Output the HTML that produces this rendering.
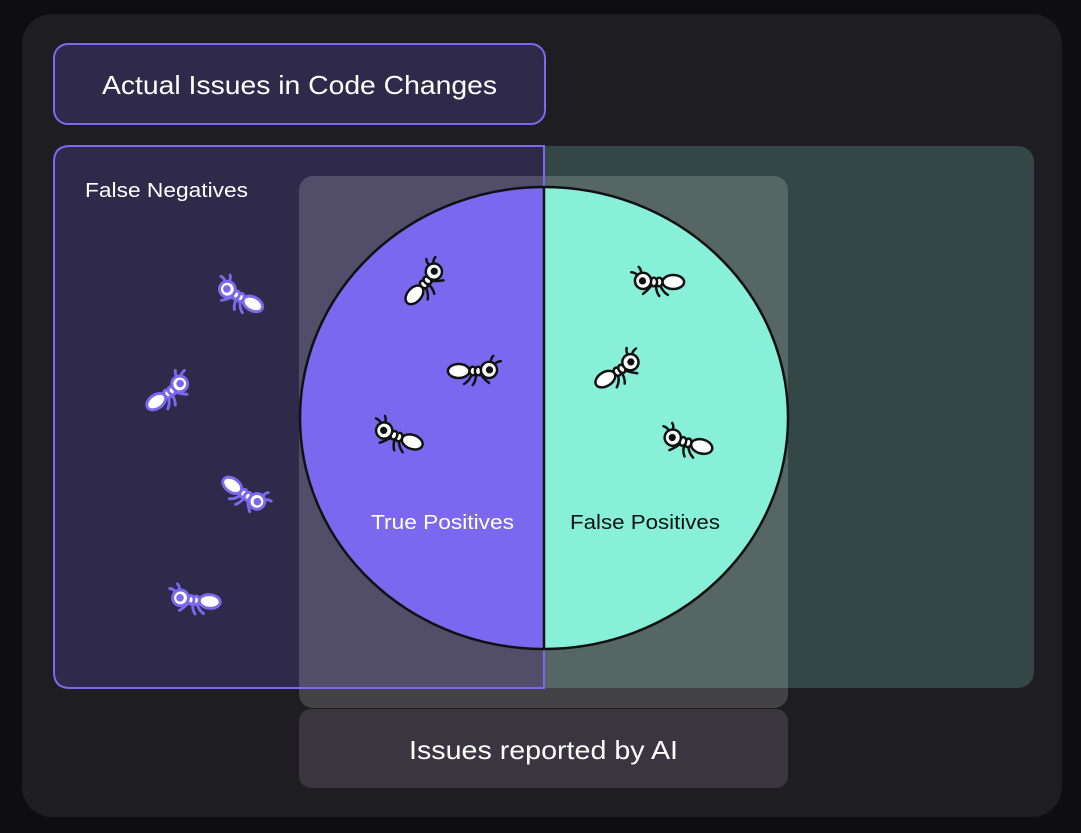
<!DOCTYPE html>
<html><head><meta charset="utf-8"><style>
html,body{margin:0;padding:0;background:#0e0e10;width:1081px;height:833px;overflow:hidden}
svg{display:block}
text{font-family:"Liberation Sans",sans-serif}
</style></head><body>
<svg width="1081" height="833" viewBox="0 0 1081 833" xmlns="http://www.w3.org/2000/svg">
<defs>
<g id="ant">
  <path d="M-4,3 q-2,6 -7,9 M0,3 q0,6 -3,10 M4,3 q4,5 8,8 M14,-6 q-1,-5 2,-8 M16,-5 q3,-4 7,-4" fill="none" stroke-linecap="round"/>
  <ellipse cx="-16" cy="0" rx="10" ry="6.5" fill="#fff"/>
  <ellipse cx="-3" cy="0" rx="3" ry="4" fill="#fff"/>
  <ellipse cx="2" cy="0" rx="3" ry="4" fill="#fff"/>
  <circle cx="12" cy="-1" r="7.5" fill="#fff"/>
  <circle cx="12.5" cy="-1" r="2.2" class="pup"/>
</g>
</defs>
<rect x="22" y="14" width="1040" height="803" rx="30" fill="#1e1d21"/>
<rect x="54" y="44" width="491" height="80" rx="14" fill="#2f2a4a" stroke="#7b68ee" stroke-width="2"/>
<text x="102" y="94" font-size="26" fill="#fff" textLength="395" lengthAdjust="spacingAndGlyphs">Actual Issues in Code Changes</text>
<rect x="54" y="146" width="980" height="542" rx="16" fill="#334846"/>
<path d="M70,146 H544 V688 H70 Q54,688 54,672 V162 Q54,146 70,146 Z" fill="#2f2a4a"/>
<text x="85" y="197" font-size="20" fill="#fff" textLength="163" lengthAdjust="spacingAndGlyphs">False Negatives</text>
<rect x="299" y="176" width="489" height="532" rx="14" fill="#ffffff" fill-opacity="0.17"/>
<path d="M70,146 H544 V688 H70 Q54,688 54,672 V162 Q54,146 70,146 Z" fill="none" stroke="#7b68ee" stroke-width="2"/>
<path d="M544,187 A244,231 0 0,0 544,649 Z" fill="#7b68ee"/>
<path d="M544,187 A244,231 0 0,1 544,649 Z" fill="#88f0d8"/>
<ellipse cx="544" cy="418" rx="244" ry="231" fill="none" stroke="#111" stroke-width="2.5"/>
<line x1="544" y1="187" x2="544" y2="649" stroke="#111" stroke-width="2.5"/>
<text x="371" y="529" font-size="20" fill="#fff" textLength="143" lengthAdjust="spacingAndGlyphs">True Positives</text>
<text x="570" y="529" font-size="20" fill="#111" textLength="150" lengthAdjust="spacingAndGlyphs">False Positives</text>
<rect x="299" y="709" width="489" height="79" rx="12" fill="#39363f"/>
<text x="409" y="759" font-size="26" fill="#fff" textLength="269" lengthAdjust="spacingAndGlyphs">Issues reported by AI</text>
<g stroke="#111" stroke-width="2.3" fill="#111">
  <use href="#ant" transform="translate(476,371) scale(1.08)"/>
  <use href="#ant" transform="translate(426,282) rotate(-48) scale(1.08)"/>
  <use href="#ant" transform="translate(396,436) scale(-1.08,1.08) rotate(-20)"/>
  <use href="#ant" transform="translate(656,282) scale(-1.08,1.08)"/>
  <use href="#ant" transform="translate(620,370) rotate(-32) scale(1.08)"/>
  <use href="#ant" transform="translate(685,442) scale(-1.08,1.08) rotate(-15)"/>
</g>
<g stroke="#7b68ee" stroke-width="2.8" fill="#7b68ee">
  <use href="#ant" transform="translate(238,296) scale(-1.05,1.05) rotate(-28)"/>
  <use href="#ant" transform="translate(170,392) rotate(-35) scale(1.05)"/>
  <use href="#ant" transform="translate(246,495) rotate(35) scale(1.05)"/>
  <use href="#ant" transform="translate(193,600) scale(-1.05,1.05) rotate(-5)"/>
</g>
</svg>
</body></html>
